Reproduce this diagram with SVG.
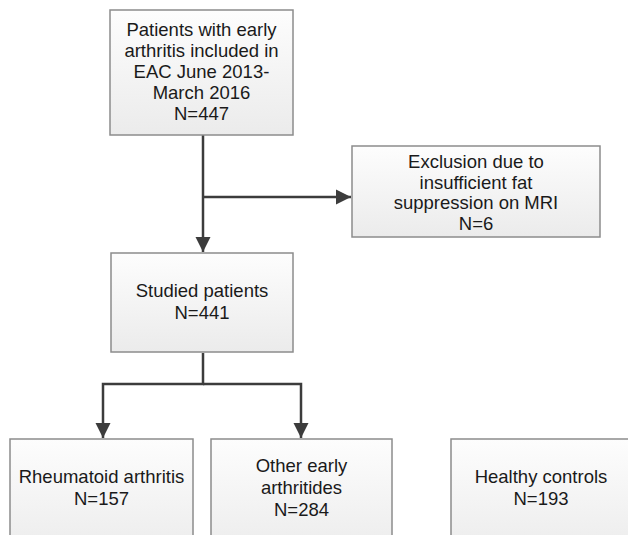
<svg xmlns="http://www.w3.org/2000/svg" width="628" height="535" viewBox="0 0 628 535">
<defs>
<linearGradient id="g" x1="0" y1="0" x2="0" y2="1">
<stop offset="0" stop-color="#fdfdfd"/>
<stop offset="1" stop-color="#ebebeb"/>
</linearGradient>
<marker id="ah" markerWidth="7" markerHeight="7" refX="6" refY="3.5" orient="auto" markerUnits="strokeWidth">
<path d="M0,0.5 L6,3.5 L0,6.5 Z" fill="#3c3c3c"/>
</marker>
<style>
.box{fill:url(#g);stroke:#8c8c8c;stroke-width:1.5}
.t{font-family:"Liberation Sans",Arial,sans-serif;font-size:18.5px;fill:#1a1a1a;text-anchor:middle}
.c{fill:none;stroke:#3c3c3c;stroke-width:2.5}
</style>
</defs>
<rect width="628" height="535" fill="#ffffff"/>
<g id="connectors">
<line class="c" x1="203" y1="135" x2="203" y2="252" marker-end="url(#ah)"/>
<line class="c" x1="203" y1="197" x2="351" y2="197" marker-end="url(#ah)"/>
<polyline class="c" points="203,353 203,384 103,384 103,438" marker-end="url(#ah)"/>
<polyline class="c" points="203,384 301,384 301,438" marker-end="url(#ah)"/>
</g>
<g id="n-patients">
<rect class="box" x="110" y="10" width="183" height="125"/>
<text class="t" x="201.5" y="36">Patients with early</text>
<text class="t" x="201.5" y="57">arthritis included in</text>
<text class="t" x="201.5" y="78">EAC June 2013-</text>
<text class="t" x="201.5" y="99">March 2016</text>
<text class="t" x="201.5" y="120">N=447</text>
</g>
<g id="n-exclusion">
<rect class="box" x="352" y="146" width="248" height="91"/>
<text class="t" x="476" y="168">Exclusion due to</text>
<text class="t" x="476" y="189">insufficient fat</text>
<text class="t" x="476" y="209">suppression on MRI</text>
<text class="t" x="476" y="230">N=6</text>
</g>
<g id="n-studied">
<rect class="box" x="111" y="253" width="182" height="99"/>
<text class="t" x="202" y="297">Studied patients</text>
<text class="t" x="202" y="319">N=441</text>
</g>
<g id="n-ra">
<rect class="box" x="10" y="439" width="183" height="120"/>
<text class="t" x="101.5" y="483">Rheumatoid arthritis</text>
<text class="t" x="101.5" y="505">N=157</text>
</g>
<g id="n-other">
<rect class="box" x="211" y="439" width="181" height="120"/>
<text class="t" x="301.5" y="472">Other early</text>
<text class="t" x="301.5" y="494">arthritides</text>
<text class="t" x="301.5" y="516">N=284</text>
</g>
<g id="n-healthy">
<rect class="box" x="451" y="439" width="182" height="120"/>
<text class="t" x="541" y="483">Healthy controls</text>
<text class="t" x="541" y="505">N=193</text>
</g>
</svg>
